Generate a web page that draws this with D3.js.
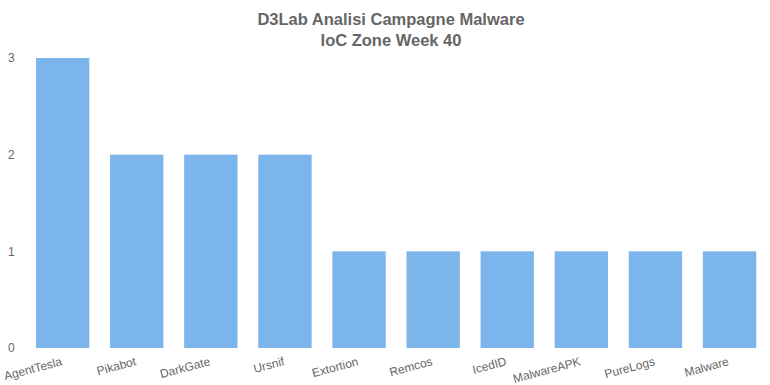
<!DOCTYPE html>
<html>
<head>
<meta charset="utf-8">
<script src="https://cdn.jsdelivr.net/npm/d3@7"></script>
<style>
  body { margin: 0; background: #fff; }
  text { font-family: "Liberation Sans", Arial, sans-serif; }
</style>
</head>
<body>
<div id="chart"></div>
<script>
var categories = ["AgentTesla", "Pikabot", "DarkGate", "Ursnif", "Extortion", "Remcos", "IcedID", "MalwareAPK", "PureLogs", "Malware"];
var counts = [3, 2, 2, 2, 1, 1, 1, 1, 1, 1];
var yTicks = [0, 1, 2, 3];
var titleLines = ["D3Lab Analisi Campagne Malware", "IoC Zone Week 40"];

function init() {
    var w = 770;
    var h = 385;

    var svg = d3.select("#chart")
        .append("svg")
        .attr("width", w)
        .attr("height", h);

    var x = d3.scaleBand()
        .domain(categories)
        .range([25.6, 766.6])
        .paddingInner(0.28)
        .paddingOuter(0.14);

    var y = d3.scaleLinear()
        .domain([0, 3])
        .range([348, 58]);

    // title
    svg.selectAll(".title")
        .data(titleLines)
        .enter()
        .append("text")
        .attr("class", "title")
        .attr("x", 391)
        .attr("y", function (d, i) { return 25 + i * 21; })
        .attr("text-anchor", "middle")
        .style("font-size", "16.5px")
        .style("font-weight", "bold")
        .style("fill", "#666")
        .text(function (d) { return d; });

    // y labels
    svg.selectAll(".ylab")
        .data(yTicks)
        .enter()
        .append("text")
        .attr("class", "ylab")
        .attr("x", 8)
        .attr("y", function (d) { return y(d); })
        .attr("dy", "0.35em")
        .style("font-size", "12px")
        .style("fill", "#666")
        .text(function (d) { return d; });

    svg.selectAll("rect")
        .data(counts)
        .enter()
        .append("rect")
        .attr("x", function (d, i) { return x(categories[i]); })
        .attr("y", function (d) { return y(d); })
        .attr("width", x.bandwidth())
        .attr("height", function (d) { return y(0) - y(d); })
        .style("fill", "#7cb5ec");

    // x labels, rotated
    svg.selectAll(".xlab")
        .data(categories)
        .enter()
        .append("text")
        .attr("class", "xlab")
        .attr("text-anchor", "end")
        .attr("transform", function (d) {
            return "translate(" + (x(d) + x.bandwidth() / 2) + "," + 365 + ") rotate(-15)";
        })
        .style("font-size", "12px")
        .style("fill", "#666")
        .text(function (d) { return d; });
}

window.onload = init;
</script>
</body>
</html>
